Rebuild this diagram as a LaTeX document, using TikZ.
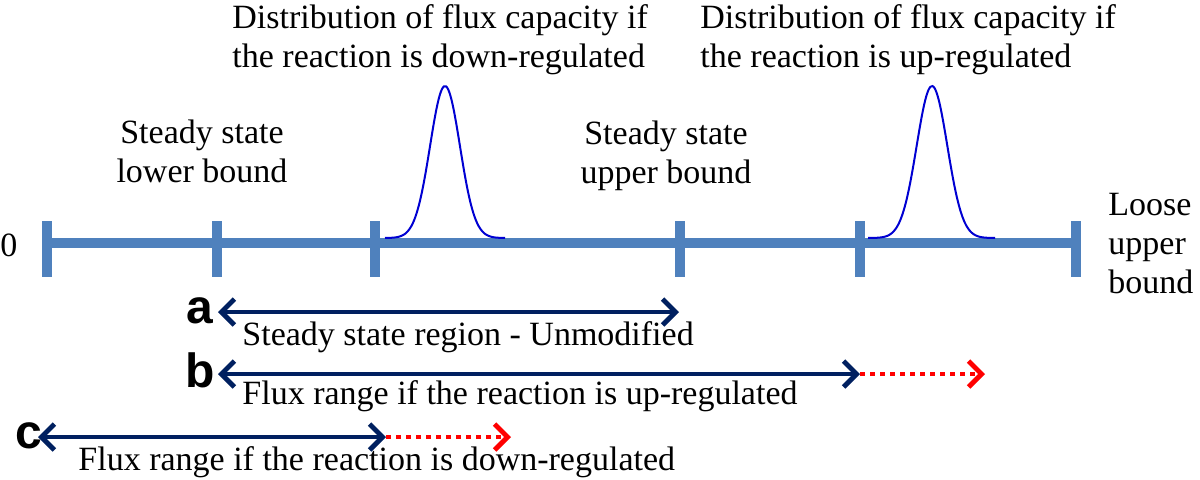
\documentclass[tikz,border=0pt]{standalone}
\usepackage{fontspec}
\setmainfont{Liberation Serif}
\newfontfamily\letterfont{Liberation Sans}
\usetikzlibrary{arrows.meta}
\definecolor{axisblue}{RGB}{79,129,189}
\definecolor{navyline}{RGB}{0,32,96}
\definecolor{bellblue}{RGB}{0,0,210}
\tikzset{
  lbl/.style={font=\fontsize{17}{19.5}\selectfont, inner sep=0pt},
  letter/.style={font=\letterfont\bfseries\fontsize{24}{24}\selectfont, inner sep=0pt},
  axisbar/.style={axisblue, line width=5pt},
  fluxrange/.style={navyline, line width=2.4pt, {Straight Barb[length=6.5pt,width=13pt]}-{Straight Barb[length=6.5pt,width=13pt]}},
  extend/.style={red, line width=2.4pt, dash pattern=on 2.5pt off 2.5pt, -{Straight Barb[length=6.5pt,width=13pt]}},
  bell/.style={bellblue, line width=1pt, smooth, samples=60},
}
\begin{document}
\begin{tikzpicture}[x=0.5pt, y=-0.5pt]
\useasboundingbox (0,0) rectangle (1200,479);
% axis and ticks
\coordinate (t0) at (47,243);
\coordinate (t1) at (217,243);
\coordinate (t2) at (375,243);
\coordinate (t3) at (680,243);
\coordinate (t4) at (860,243);
\coordinate (t5) at (1076,243);
\draw[axisbar] (t0) -- (t5);
\foreach \t in {t0,t1,t2,t3,t4,t5}
  \draw[axisbar] ([yshift=11pt]\t) -- ([yshift=-17pt]\t);
% capacity distributions
\draw[bell, domain=385:505] plot (\x, {238-152*exp(-(\x-445)*(\x-445)/445)});
\draw[bell, domain=868:995] plot (\x, {238-152*exp(-(\x-932)*(\x-932)/470)});
% labels (multi-line nodes sit on their last baseline)
\node[lbl, anchor=base west] (zero) at (0,256) {0};
\node[lbl, anchor=base, align=center] (lower) at (202,182) {Steady state\\lower bound};
\node[lbl, anchor=base, align=center] (upper) at (666,183) {Steady state\\upper bound};
\node[lbl, anchor=base west, align=left] (down) at (232,67) {Distribution of flux capacity if\\the reaction is down-regulated};
\node[lbl, anchor=base west, align=left] (up) at (700,67) {Distribution of flux capacity if\\the reaction is up-regulated};
\node[lbl, anchor=base west, align=left] (loose) at (1108,293) {Loose\\upper\\bound};
% ranges
\coordinate (a0) at (218,312);
\coordinate (a1) at (679,312);
\coordinate (b0) at (218,374);
\coordinate (b1) at (860,374);
\coordinate (b2) at (985,374);
\coordinate (c0) at (38,437);
\coordinate (c1) at (386,437);
\coordinate (c2) at (511,437);
\draw[extend] (b1) -- (b2);
\draw[extend] (c1) -- (c2);
\draw[fluxrange] (a0) -- (a1);
\draw[fluxrange] (b0) -- (b1);
\draw[fluxrange] (c0) -- (c1);
\node[letter, anchor=base east] (la) at (214,323) {a};
\node[letter, anchor=base east] (lb) at (215,387) {b};
\node[letter, anchor=base east] (lc) at (43,448) {c};
\node[lbl, anchor=base west] (ta) at (242,345) {Steady state region - Unmodified};
\node[lbl, anchor=base west] (tb) at (242,404) {Flux range if the reaction is up-regulated};
\node[lbl, anchor=base west] (tc) at (78,470) {Flux range if the reaction is down-regulated};
\end{tikzpicture}
\end{document}
